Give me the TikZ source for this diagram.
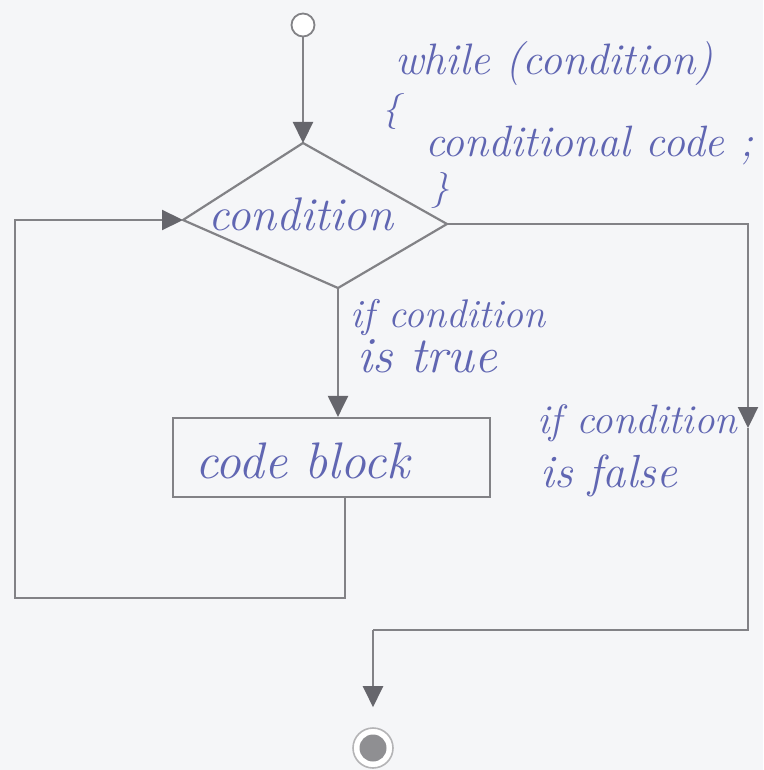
\documentclass[tikz,border=0pt]{standalone}
\usepackage{graphicx}
\usetikzlibrary{arrows.meta,calc}
\definecolor{ink}{RGB}{96,102,178}
\definecolor{ln}{RGB}{130,130,134}
\definecolor{tipc}{RGB}{102,102,108}
\definecolor{bg}{RGB}{245,246,248}
\newcommand{\hw}[2]{\resizebox{#1}{!}{\itshape #2}}
\tikzset{
  flow/.style={draw=ln, line width=2.2pt},
  arr/.style={flow, -{Triangle[length=21pt,width=20pt,fill=tipc,color=tipc]}},
  hand/.style={text=ink, inner sep=0pt, anchor=base west, font=\fontsize{20}{24}\selectfont},
  brace/.style={text=ink, inner sep=0pt, font=\fontsize{36}{40}\selectfont\itshape},
  blockbox/.style={draw=ln, line width=2.2pt, text=ink, minimum height=79pt,
    text width=273pt, inner xsep=22pt, inner ysep=0pt, align=left,
    text height=41pt, text depth=0pt,
    font=\fontsize{20}{24}\selectfont},
  startdot/.style={circle, draw=ln, line width=1.8pt, minimum size=23pt, inner sep=0pt, fill=white},
  enddot/.style={circle, draw=ln!60, line width=1.6pt, minimum size=40pt, inner sep=0pt, fill=white,
    path picture={\fill[ln!90] (path picture bounding box.center) circle (13.5pt);}},
}
\begin{document}
\begin{tikzpicture}[x=1pt,y=-1pt]
\fill[bg] (0,0) rectangle (763,770);
\useasboundingbox (0,0) rectangle (763,770);
% nodes
\node[startdot] (start) at (303,25) {};
\coordinate (ct) at (303,143);
\coordinate (cr) at (447,224);
\coordinate (cb) at (338,288);
\coordinate (cl) at (183,220);
\draw[flow, line join=round] (ct) -- (cr) -- (cb) -- (cl) -- cycle;
\node[hand] (condtxt) at (208,230) {\hw{185pt}{condition}};
\node[blockbox] (block) at (331.5,457.5) {\hw{215pt}{code block}};
\node[enddot] (stop) at (373,748) {};
% connectors
\draw[arr] (start) -- (ct);
\draw[arr] (cb) -- (cb |- block.north);
\coordinate (lb) at (345,598);
\coordinate (ll) at (15,598);
\coordinate (lt) at (15,220);
\draw[arr] (block.south -| lb) -- (lb) -- (ll) -- (lt) -- (cl);
\coordinate (rt) at (748,224);
\coordinate (rm) at (748,428);
\coordinate (rb) at (748,630);
\coordinate (bl) at (373,630);
\draw[arr] (cr) -- (rt) -- (rm);
\draw[flow] (rm) -- (rb) -- (bl);
\draw[arr, shorten >=20pt] (bl) -- (stop);
% labels
\node[hand] (wtxt) at (395,75) {\hw{318pt}{while (condition)}};
\node[brace] (lbr) at (391,112) {\{};
\node[hand] (cctxt) at (425,157) {\hw{328pt}{conditional code ;}};
\node[brace] (rbr) at (440,190) {\}};
\node[hand] (t1) at (350,327) {\hw{195pt}{if condition}};
\node[hand] (t2) at (357,372) {\hw{140pt}{is true}};
\node[hand] (f1) at (537,433) {\hw{200pt}{if condition}};
\node[hand] (f2) at (540,487) {\hw{137pt}{is false}};
\end{tikzpicture}
\end{document}
